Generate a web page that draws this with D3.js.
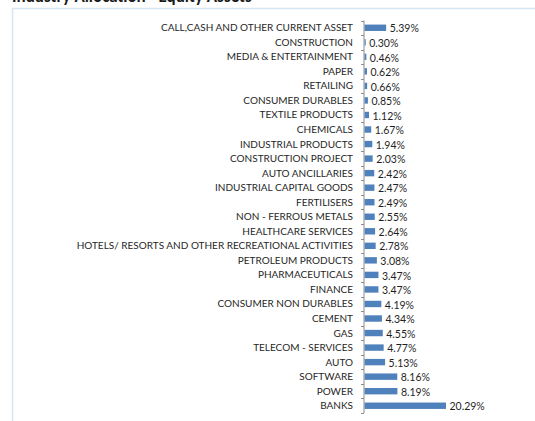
<!DOCTYPE html>
<html><head><meta charset="utf-8">
<script src="https://cdn.jsdelivr.net/npm/d3@7"></script>
<style>body{margin:0;background:#fff;}svg{display:block;}</style>
</head><body>
<script>
const categories = ["CALL,CASH AND OTHER CURRENT ASSET","CONSTRUCTION","MEDIA & ENTERTAINMENT","PAPER","RETAILING","CONSUMER DURABLES","TEXTILE PRODUCTS","CHEMICALS","INDUSTRIAL PRODUCTS","CONSTRUCTION PROJECT","AUTO ANCILLARIES","INDUSTRIAL CAPITAL GOODS","FERTILISERS","NON - FERROUS METALS","HEALTHCARE SERVICES","HOTELS/ RESORTS AND OTHER RECREATIONAL ACTIVITIES","PETROLEUM PRODUCTS","PHARMACEUTICALS","FINANCE","CONSUMER NON DURABLES","CEMENT","GAS","TELECOM - SERVICES","AUTO","SOFTWARE","POWER","BANKS"];
const values = [5.39,0.30,0.46,0.62,0.66,0.85,1.12,1.67,1.94,2.03,2.42,2.47,2.49,2.55,2.64,2.78,3.08,3.47,3.47,4.19,4.34,4.55,4.77,5.13,8.16,8.19,20.29];
const title = "Industry Allocation - Equity Assets";

const W = 535, H = 421;
const svg = d3.select("body").append("svg").attr("width", W).attr("height", H);
const font = "Lato, 'Open Sans', sans-serif";

// chart border
svg.append("rect").attr("x", 12.5).attr("y", 8.5).attr("width", 540).attr("height", 430)
  .attr("fill", "#fff").attr("stroke", "#d6e6f4").attr("stroke-width", 1.5);

svg.append("text").attr("x", 12).attr("y", 2).attr("font-family", "Calibri, Lato, sans-serif")
  .attr("font-weight", "bold").attr("font-size", 17).attr("fill", "#1a1a1a").text(title);

const axisX = 364;
const y = d3.scaleBand().domain(categories).range([20.5, 413]).paddingInner(0.56).paddingOuter(0.28);
const x = d3.scaleLinear().domain([0, 20.29]).range([axisX, axisX + 81.5]);

const g = svg.append("g");
g.selectAll("rect.bar").data(values).join("rect").attr("class", "bar")
  .attr("x", axisX + 0.5)
  .attr("y", (d, i) => y(categories[i]))
  .attr("width", d => Math.max(0.8, x(d) - axisX))
  .attr("height", y.bandwidth())
  .attr("fill", "#4f81bd");

// axis line and ticks at category boundaries
const r = y.range();
g.append("line").attr("x1", axisX).attr("x2", axisX).attr("y1", r[0]).attr("y2", r[1])
  .attr("stroke", "#8c8c8c").attr("stroke-width", 1);
d3.range(categories.length + 1).forEach(i => {
  const yy = Math.round(r[0] + i * y.step()) + 0.5;
  g.append("line").attr("x1", axisX - 3).attr("x2", axisX).attr("y1", yy).attr("y2", yy)
    .attr("stroke", "#8c8c8c").attr("stroke-width", 1);
});

// category labels
g.selectAll("text.cat").data(categories).join("text").attr("class", "cat")
  .attr("x", axisX - 11).attr("y", d => y(d) + y.bandwidth() / 2)
  .attr("dy", "0.35em").attr("text-anchor", "end")
  .attr("font-family", font).attr("font-size", 10).attr("fill", "#1f1f1f").text(d => d);

// value labels
g.selectAll("text.val").data(values).join("text").attr("class", "val")
  .attr("x", d => x(d) + 4).attr("y", (d, i) => y(categories[i]) + y.bandwidth() / 2 + 1)
  .attr("dy", "0.35em")
  .attr("font-family", font).attr("font-size", 10.5).attr("fill", "#1f1f1f")
  .text(d => d.toFixed(2) + "%");
</script>
</body></html>
